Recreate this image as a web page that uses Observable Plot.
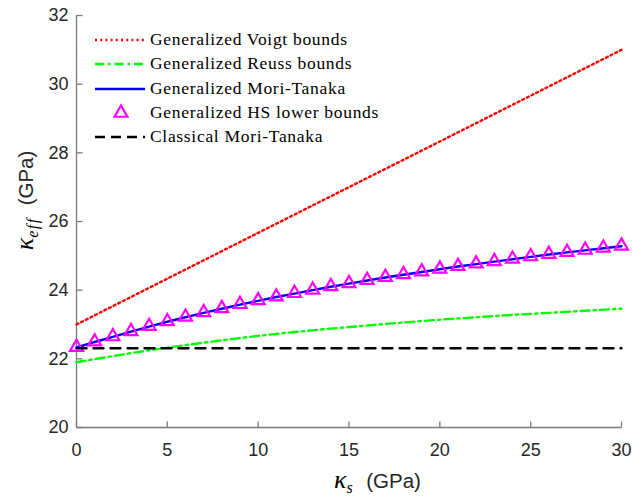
<!DOCTYPE html>
<html>
<head>
<meta charset="utf-8">
<script src="https://cdn.jsdelivr.net/npm/d3@7"></script>
<script src="https://cdn.jsdelivr.net/npm/@observablehq/plot@0.6"></script>
<style>
  html, body { margin: 0; padding: 0; background: #fff; }
  #wrap { position: relative; width: 632px; height: 497px; }
  .leg { position: absolute; left: 95px; top: 28px; font-family: "Liberation Serif", serif; font-size: 17.5px; color: #000; }
  .row { position: absolute; left: 0; height: 24px; white-space: nowrap; }
  .row svg { position: absolute; left: 0; top: 0; }
  .row span { position: absolute; left: 55px; top: 1px; }
  .xl, .yl { position: absolute; white-space: nowrap; color: #000; line-height: 26px; }
  .k { font-family: "Liberation Serif", serif; font-style: italic; font-size: 26px; }
  .sub { font-family: "Liberation Serif", serif; font-style: italic; font-size: 16px; position: relative; top: 5px; letter-spacing: 1.5px; }
  .g { font-family: "Liberation Sans", sans-serif; font-size: 20.5px; color: #262626; margin-left: 12px; }
</style>
</head>
<body>
<div id="wrap"></div>
<script>
// ---- data ----
const xTicks = [0, 5, 10, 15, 20, 25, 30];
const yTicks = [20, 22, 24, 26, 28, 30, 32];

const voigtX = [0, 10, 20, 30];
const voigtY = [23.0, 25.67, 28.33, 31.0];

const reussX = [0, 2, 4, 6, 8, 10, 12, 14, 16, 18, 20, 22, 24, 26, 28, 30];
const reussY = [21.90, 22.08, 22.25, 22.40, 22.54, 22.67, 22.78, 22.88, 22.97, 23.06, 23.14, 23.21, 23.28, 23.34, 23.40, 23.46];

const mtX = [0, 1, 2, 3, 4, 5, 6, 7, 8, 9, 10, 11, 12, 13, 14, 15, 16, 17, 18, 19, 20, 21, 22, 23, 24, 25, 26, 27, 28, 29, 30];
const mtY = [22.33, 22.49, 22.64, 22.79, 22.94, 23.08, 23.21, 23.34, 23.46, 23.58, 23.69, 23.80, 23.90, 24.00, 24.10, 24.19,
             24.28, 24.37, 24.45, 24.53, 24.61, 24.69, 24.76, 24.83, 24.90, 24.97, 25.04, 25.10, 25.16, 25.22, 25.28];

const hsX = [0, 1, 2, 3, 4, 5, 6, 7, 8, 9, 10, 11, 12, 13, 14, 15, 16, 17, 18, 19, 20, 21, 22, 23, 24, 25, 26, 27, 28, 29, 30];
const hsY = [22.34, 22.50, 22.65, 22.80, 22.95, 23.09, 23.22, 23.35, 23.47, 23.59, 23.70, 23.81, 23.91, 24.01, 24.11, 24.20,
             24.29, 24.38, 24.46, 24.54, 24.62, 24.70, 24.77, 24.84, 24.91, 24.98, 25.05, 25.11, 25.17, 25.23, 25.29];

const classicX = [0, 30];
const classicY = [22.31, 22.31];

const legendLabels = ["Generalized Voigt bounds", "Generalized Reuss bounds", "Generalized Mori-Tanaka",
                      "Generalized HS lower bounds", "Classical Mori-Tanaka"];

// ---- chart ----
const axisCol = "#7a7a7a";
const tickLen = 6;
const triR = 4.8;
// custom symbols for inward (MATLAB-style) tick marks
const tickUp = {draw(ctx) { ctx.moveTo(0, 0); ctx.lineTo(0, -tickLen); }};
const tickRight = {draw(ctx) { ctx.moveTo(0, 0); ctx.lineTo(tickLen, 0); }};

const chart = Plot.plot({
  width: 632, height: 497,
  marginLeft: 76, marginRight: 11, marginTop: 15, marginBottom: 70,
  x: {domain: [0, 30]},
  y: {domain: [20, 32]},
  style: {fontFamily: "Liberation Sans, Arial, sans-serif", fontSize: "18px", color: "#262626", background: "white"},
  marks: [
    Plot.axisX({ticks: xTicks, tickSize: 0, tickPadding: 16, tickFormat: d => String(d), label: null,
                fill: "#262626", fontSize: 18}),
    Plot.axisY({ticks: yTicks, tickSize: 0, tickPadding: 8, tickFormat: d => String(d), label: null,
                fill: "#262626", fontSize: 18}),
    Plot.ruleY([20], {stroke: axisCol, strokeWidth: 1.3}),
    Plot.ruleX([0], {stroke: axisCol, strokeWidth: 1.3}),
    Plot.dot(xTicks, {x: d => d, y: () => 20, symbol: tickUp, stroke: axisCol, strokeWidth: 1.3, fill: "none"}),
    Plot.dot(yTicks, {x: () => 0, y: d => d, symbol: tickRight, stroke: axisCol, strokeWidth: 1.3, fill: "none"}),
    Plot.line(voigtY, {x: voigtX, y: voigtY, stroke: "#ff0000", strokeWidth: 2.4, strokeDasharray: "2,3.2"}),
    Plot.line(reussY, {x: reussX, y: reussY, stroke: "#00ff00", strokeWidth: 2.4, strokeDasharray: "9,4,2.5,4"}),
    Plot.line(mtY, {x: mtX, y: mtY, stroke: "#0000ff", strokeWidth: 2.4}),
    Plot.dot(hsY, {x: hsX, y: hsY, symbol: "triangle", r: triR, stroke: "#ff00ff", strokeWidth: 2.2, fill: "none"}),
    Plot.line(classicY, {x: classicX, y: classicY, stroke: "#000000", strokeWidth: 2.4, strokeDasharray: "10,7"})
  ]
});

const wrap = document.getElementById("wrap");
wrap.appendChild(chart);

// ---- legend ----
const swatches = [
  `<line x1="0" y1="12" x2="50" y2="12" stroke="#ff0000" stroke-width="2.4" stroke-dasharray="2,3.2"/>`,
  `<line x1="0" y1="12" x2="50" y2="12" stroke="#00ff00" stroke-width="2.4" stroke-dasharray="9,4,2.5,4"/>`,
  `<line x1="0" y1="12" x2="50" y2="12" stroke="#0000ff" stroke-width="2.4"/>`,
  `<path d="${d3.symbol(d3.symbolTriangle, Math.PI * triR * triR)()}" transform="translate(26,12)" stroke="#ff00ff" stroke-width="2.2" fill="none"/>`,
  `<line x1="0" y1="12" x2="50" y2="12" stroke="#000000" stroke-width="2.4" stroke-dasharray="10,6"/>`
];
const leg = document.createElement("div");
leg.className = "leg";
const spans = [];
legendLabels.forEach((lab, i) => {
  const row = document.createElement("div");
  row.className = "row";
  row.style.top = (i * 24.3) + "px";
  row.innerHTML = `<svg width="52" height="24">${swatches[i]}</svg><span>${lab}</span>`;
  leg.appendChild(row);
  spans.push(row.querySelector("span"));
});
wrap.appendChild(leg);
{
  const w0 = spans[0].getBoundingClientRect().width;
  const ls = Math.max(0, (197 - w0) / (legendLabels[0].length - 1));
  spans.forEach(s => s.style.letterSpacing = ls + "px");
}

// ---- axis labels ----
const xl = document.createElement("div");
xl.className = "xl";
xl.innerHTML = `<span class="k">κ</span><span class="sub">s</span><span class="g">(GPa)</span>`;
wrap.appendChild(xl);
xl.style.left = "334px";
xl.style.top = (481 - xl.offsetHeight / 2) + "px";

const yl = document.createElement("div");
yl.className = "yl";
yl.innerHTML = `<span class="k">κ</span><span class="sub">eff</span><span class="g">(GPa)</span>`;
wrap.appendChild(yl);
const w = yl.offsetWidth, h = yl.offsetHeight;
yl.style.left = (27 - w / 2) + "px";
yl.style.top = (200 - h / 2) + "px";
yl.style.transform = "rotate(-90deg)";
</script>
</body>
</html>
